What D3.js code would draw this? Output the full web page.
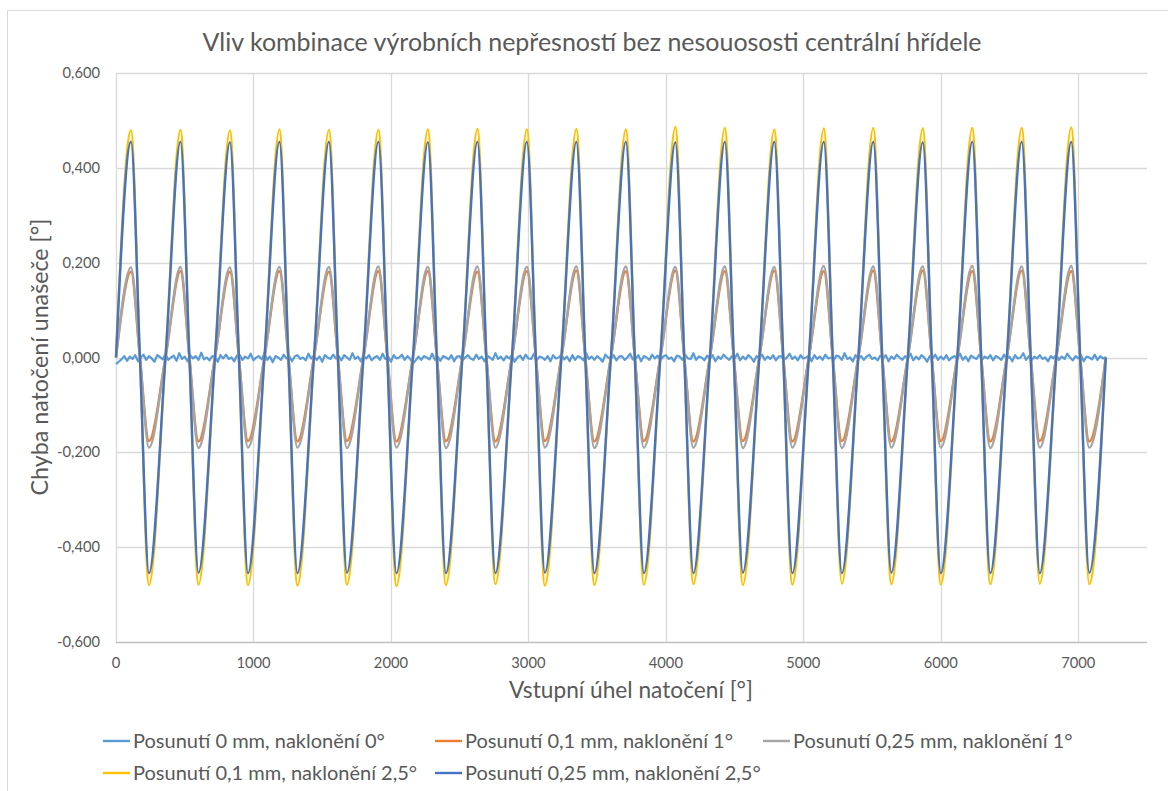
<!DOCTYPE html>
<html>
<head>
<meta charset="utf-8">
<script src="https://cdn.jsdelivr.net/npm/d3@7"></script>
<style>
    body { margin: 0; background: #ffffff; }
    text { font-family: Lato, "Open Sans", sans-serif; fill: #595959; }
</style>
</head>
<body>
<svg id="chart" width="1168" height="791"></svg>
<script>
/// //////////////////////////////////////////////////////////////////
// Data
/// //////////////////////////////////////////////////////////////////
const chartTitle = "Vliv kombinace výrobních nepřesností bez nesouososti centrální hřídele";
const xTitle = "Vstupní úhel natočení [°]";
const yTitle = "Chyba natočení unašeče [°]";

const xTicks = [0, 1000, 2000, 3000, 4000, 5000, 6000, 7000];
const yTicks = [-0.6, -0.4, -0.2, 0, 0.2, 0.4, 0.6];

const seriesNames = [
    "Posunutí 0 mm, naklonění 0°",
    "Posunutí 0,1 mm, naklonění 1°",
    "Posunutí 0,25 mm, naklonění 1°",
    "Posunutí 0,1 mm, naklonění 2,5°",
    "Posunutí 0,25 mm, naklonění 2,5°",
];
const seriesColors = ["#5b9bd5", "#ed7d31", "#a5a5a5", "#ffc000", "#4472c4"];

// every cycle is 360° long, the key points inside one cycle (zero up, peak, zero down, trough)
const cycleLength = 360;
const cycleKeyAngles = [0, 109, 174, 240];
const endAngle = 7200;

// peaks and troughs of each of the 20 cycles
const peaks01x1 = [0.181, 0.182, 0.181, 0.182, 0.181, 0.182, 0.182, 0.181, 0.182, 0.183, 0.182, 0.183, 0.182, 0.183, 0.182, 0.183, 0.183, 0.182, 0.183, 0.182];
const troughs01x1 = [-0.176, -0.177, -0.176, -0.177, -0.176, -0.177, -0.176, -0.177, -0.176, -0.177, -0.176, -0.177, -0.176, -0.177, -0.176, -0.177, -0.176, -0.177, -0.176, -0.177];

const peaks025x1 = [0.190, 0.191, 0.190, 0.191, 0.191, 0.192, 0.191, 0.192, 0.191, 0.192, 0.192, 0.191, 0.192, 0.191, 0.193, 0.192, 0.192, 0.193, 0.192, 0.193];
const troughs025x1 = [-0.190, -0.191, -0.190, -0.190, -0.191, -0.190, -0.191, -0.190, -0.190, -0.191, -0.190, -0.190, -0.191, -0.190, -0.191, -0.190, -0.190, -0.191, -0.190, -0.190];

const peaks01x25 = [0.479, 0.480, 0.479, 0.481, 0.480, 0.480, 0.481, 0.482, 0.481, 0.482, 0.481, 0.486, 0.484, 0.481, 0.483, 0.484, 0.483, 0.484, 0.484, 0.485];
const troughs01x25 = [-0.480, -0.479, -0.480, -0.481, -0.479, -0.482, -0.480, -0.478, -0.481, -0.480, -0.479, -0.478, -0.480, -0.479, -0.477, -0.478, -0.479, -0.478, -0.477, -0.478];

const peaks025x25 = [0.455, 0.455, 0.454, 0.455, 0.455, 0.455, 0.454, 0.455, 0.455, 0.455, 0.455, 0.454, 0.455, 0.455, 0.455, 0.455, 0.454, 0.455, 0.455, 0.455];
const troughs025x25 = [-0.455, -0.454, -0.455, -0.455, -0.454, -0.455, -0.455, -0.455, -0.454, -0.455, -0.455, -0.455, -0.454, -0.455, -0.455, -0.454, -0.455, -0.455, -0.455, -0.454];

// no misalignment series: small noise, one value every 20°, in thousandths of a degree
const noiseStep = 20;
const noise0x0 = [
    -14, -9, -4, 3, -7, 2, -3, 5, -8, 0, 6, -5, 3, -2, -9, 5, 1, -4, 8, -5,
    0, 4, -7, 9, -3, 2, -8, 5, -2, 3, -5, 10, -4, 0, -6, 3, 2, -9, 5, -2,
    6, -3, 0, -8, 4, 5, -5, 2, -2, 8, -6, 0, 3, -4, 9, -5, 2, -10, 3, 0,
    -5, 6, -2, 3, -8, 2, 5, -3, 0, -6, 8, -2, 4, -5, 2, -9, 5, 0, -3, 6,
    -2, 3, -6, 5, 0, -5, 9, -3, 2, -8, 4, -2, 5, -6, 0, 3, -5, 8, -3, 2,
    -9, 5, -2, 0, 6, -5, 3, -3, -13, -6, 2, -5, 3, 0, -4, 8, -5, 2, -7, 3,
    0, -4, 5, -8, 2, 3, -6, 0, 5, -2, -5, 6, -3, 2, -8, 4, 0, -5, 9, -3,
    2, -6, 3, -2, 5, -9, 0, 4, -5, 6, -2, -3, 8, -6, 2, 0, -5, 3, -8, 5,
    -2, 0, 6, -4, 2, -8, 5, -5, 3, 0, -6, 9, -3, 2, -5, 3, -2, -9, 6, 0,
    -3, 5, -6, 2, 3, -5, 0, 8, -4, -2, 5, -8, 3, 0, -5, 6, -2, 4, -6, 2,
    5, -3, 0, -8, 4, 2, -5, 6, -2, -3, 9, -5, 2, 0, -6, 4, -2, 5, -8, 2,
    -3, 6, 0, -5, 3, -2, 8, -6, 2, -4, 5, 0, -9, 3, -2, 6, -5, 2, -3, 5,
    -6, 2, 3, -5, 0, 8, -3, 2, -6, 5, -2, 0, 4, -8, 5, -3, 2, -5, 6, -2,
    0, -6, 4, 2, -5, 9, -3, 0, -8, 5, -2, 3, -5, 2, 6, -3, 0, -6, 4, -2,
    5, -8, 2, -3, 6, 0, -5, 3, -2, 8, -6, 2, -4, 5, 0, -9, 3, -2, 6, -5,
    2, -4, 5, -6, 0, 3, -2, 8, -5, 2, -8, 4, 0, -3, 6, -5, 2, -2, 5, -6,
    3, 0, -5, 6, -3, 2, -8, 5, -2, 0, 9, -5, 3, -6, 2, -2, 5, -3, 0, -8,
    3, -2, 6, -5, 2, -3, 8, 0, -6, 3, -2, 5, -8, 2, 0, -4, 6, -5, 3, -2,
    1,
];

/// //////////////////////////////////////////////////////////////////
// Building point lists
/// //////////////////////////////////////////////////////////////////
function cyclePoints(peaks, troughs) {
    const pts = [];
    peaks.forEach((p, i) => {
        const start = i * cycleLength;
        pts.push([start + cycleKeyAngles[0], 0]);
        pts.push([start + cycleKeyAngles[1], p]);
        pts.push([start + cycleKeyAngles[2], 0]);
        pts.push([start + cycleKeyAngles[3], troughs[i]]);
    });
    pts.push([endAngle, 0]);
    return pts;
}

const noisePoints = noise0x0.map((v, i) => [i * noiseStep, v / 1000]);

const allSeries = [
    noisePoints,
    cyclePoints(peaks01x1, troughs01x1),
    cyclePoints(peaks025x1, troughs025x1),
    cyclePoints(peaks01x25, troughs01x25),
    cyclePoints(peaks025x25, troughs025x25),
];

/// //////////////////////////////////////////////////////////////////
// Drawing
/// //////////////////////////////////////////////////////////////////
const svg = d3.select("#chart");

const plotLeft = 116;
const plotRight = 1147;
const plotTop = 73;
const plotBottom = 642;

const x = d3.scaleLinear().domain([0, 7500]).range([plotLeft, plotRight]);
const y = d3.scaleLinear().domain([-0.6, 0.6]).range([plotBottom, plotTop]);

const fmt = (v) => d3.format(".3f")(v).replace(".", ",").replace("−", "-");

// helper: scale font so that the text gets the width measured in the picture
function fitWidth(sel, target) {
    const w = sel.node().getComputedTextLength();
    const fs = parseFloat(sel.style("font-size"));
    const newSize = fs * target / w;
    sel.style("font-size", `${newSize}px`);
    return newSize;
}

// chart area border
svg.append("path")
    .attr("d", "M7.5,791 L7.5,10.5 L1168,10.5")
    .attr("fill", "none")
    .attr("stroke", "#d9d9d9")
    .attr("stroke-width", 1);

// gridlines
svg.append("g")
    .selectAll("line")
    .data(yTicks)
    .enter().append("line")
    .attr("x1", plotLeft)
    .attr("x2", plotRight)
    .attr("y1", (d) => Math.round(y(d)) + 0.5)
    .attr("y2", (d) => Math.round(y(d)) + 0.5)
    .attr("stroke", (d) => (d === -0.6 ? "#bfbfbf" : "#d9d9d9"))
    .attr("stroke-width", 1.3);

svg.append("g")
    .selectAll("line")
    .data(xTicks)
    .enter().append("line")
    .attr("x1", (d) => Math.round(x(d)) + 0.5)
    .attr("x2", (d) => Math.round(x(d)) + 0.5)
    .attr("y1", plotTop)
    .attr("y2", plotBottom)
    .attr("stroke", "#d9d9d9")
    .attr("stroke-width", 1.3);

// tick labels
const yLabels = svg.append("g")
    .selectAll("text")
    .data(yTicks)
    .enter().append("text")
    .attr("x", 100)
    .attr("y", (d) => y(d))
    .attr("dy", "0.35em")
    .attr("text-anchor", "end")
    .style("font-size", "15px")
    .text((d) => fmt(d));

const tickSize = fitWidth(yLabels.filter((d) => d === -0.6), 43);
yLabels.style("font-size", `${tickSize}px`);

svg.append("g")
    .selectAll("text")
    .data(xTicks)
    .enter().append("text")
    .attr("x", (d) => x(d))
    .attr("y", 663)
    .attr("dy", "0.35em")
    .attr("text-anchor", "middle")
    .style("font-size", `${tickSize}px`)
    .text((d) => d);

// series lines: the noisy one straight, the smooth ones curved
const line = d3.line()
    .x((d) => x(d[0]))
    .y((d) => y(d[1]))
    .curve(d3.curveMonotoneX);

const noiseLine = d3.line()
    .x((d) => x(d[0]))
    .y((d) => y(d[1]));

svg.append("g")
    .selectAll("path")
    .data(allSeries)
    .enter().append("path")
    .attr("d", (d, i) => (i === 0 ? noiseLine(d) : line(d)))
    .attr("fill", "none")
    .attr("stroke", (d, i) => seriesColors[i])
    .attr("stroke-width", (d, i) => (i === 0 ? 2.2 : 2.4))
    .attr("stroke-linejoin", "round");

// titles
const title = svg.append("text")
    .attr("x", 592)
    .attr("y", 42)
    .attr("dy", "0.35em")
    .attr("text-anchor", "middle")
    .style("font-size", "22px")
    .text(chartTitle);
fitWidth(title, 779);

const xt = svg.append("text")
    .attr("x", 631)
    .attr("y", 690)
    .attr("dy", "0.35em")
    .attr("text-anchor", "middle")
    .style("font-size", "20px")
    .text(xTitle);
fitWidth(xt, 244);

const yt = svg.append("text")
    .attr("transform", "translate(40,357) rotate(-90)")
    .attr("dy", "0.35em")
    .attr("text-anchor", "middle")
    .style("font-size", "20px")
    .text(yTitle);
fitWidth(yt, 277);

// legend
const legendPos = [[103, 741], [435, 741], [763, 741], [103, 773], [435, 773]];

const legend = svg.append("g")
    .selectAll("g")
    .data(seriesNames)
    .enter().append("g")
    .attr("transform", (d, i) => `translate(${legendPos[i][0]},${legendPos[i][1]})`);

legend.append("line")
    .attr("x1", 0)
    .attr("x2", 27)
    .attr("y1", 0)
    .attr("y2", 0)
    .attr("stroke", (d, i) => seriesColors[i])
    .attr("stroke-width", 2.4);

const legendTexts = legend.append("text")
    .attr("x", 30)
    .attr("y", 0)
    .attr("dy", "0.35em")
    .style("font-size", "16px")
    .text((d) => d);

const legendSize = fitWidth(legendTexts.filter((d, i) => i === 0), 252);
legendTexts.style("font-size", `${legendSize}px`);
</script>
</body>
</html>
